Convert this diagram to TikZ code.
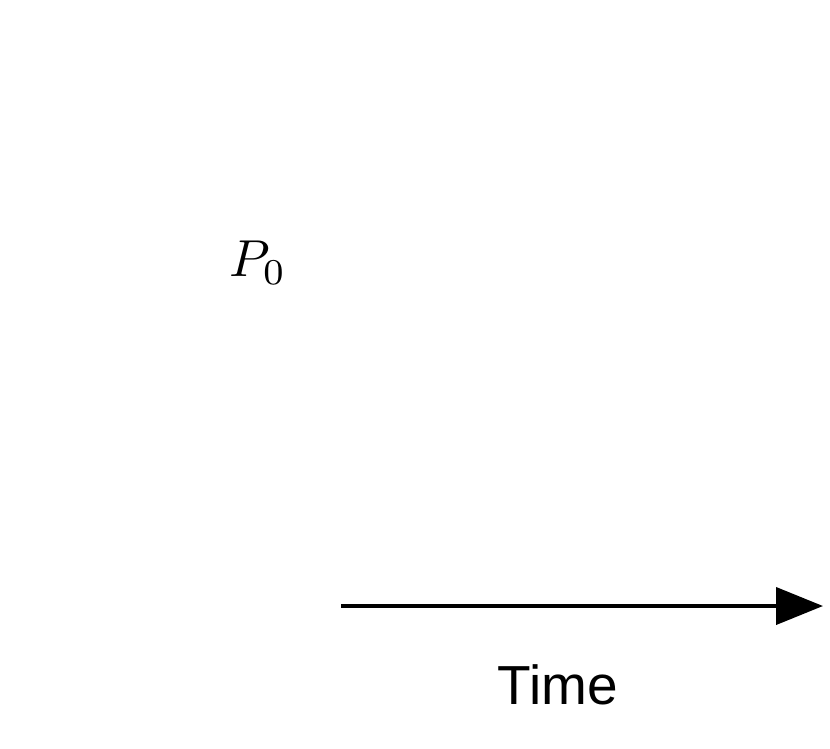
\documentclass[tikz,border=0pt]{standalone}
\usepackage{fontspec}
\newfontfamily\arialfont{Liberation Sans}
\usetikzlibrary{arrows.meta}
\begin{document}
\begin{tikzpicture}[x=1pt,y=-1pt,
  axis/.style={line width=4pt,-{Triangle[length=47pt,width=37pt]}},
  lbl/.style={inner sep=0pt,anchor=center}]
\useasboundingbox (0,0) rectangle (830,748);
\node[lbl,scale=5.2] (p0) at (258,263) {$P_0$};
\coordinate (t0) at (341,606);
\coordinate (t1) at (823,606);
\draw[axis] (t0) -- (t1);
\node[lbl,font=\arialfont\fontsize{55}{64}\selectfont] (time) at (558,685) {Time};
\end{tikzpicture}
\end{document}
